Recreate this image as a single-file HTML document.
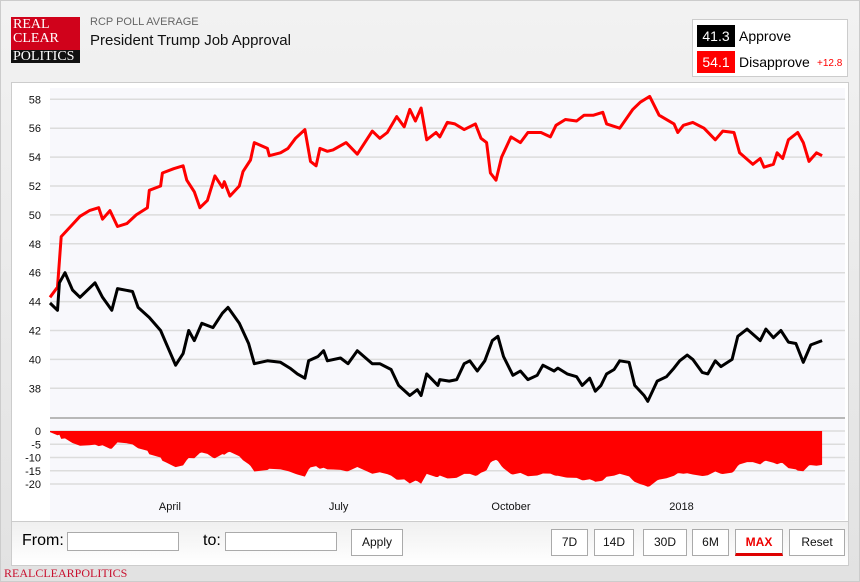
<!DOCTYPE html>
<html><head><meta charset="utf-8"><style>
*{box-sizing:border-box}
body{margin:0;width:860px;height:582px;overflow:hidden;font-family:"Liberation Sans",sans-serif;background:linear-gradient(#f2f2f2,#e2e2e2);position:relative}
.abs{position:absolute}
.btn{position:absolute;top:529px;height:27px;border:1px solid #aaa;background:#fff;font-size:12px;color:#111;text-align:center;line-height:25px}
.inp{position:absolute;top:532px;height:19px;border:1px solid #aaa;background:#fff}
</style></head><body>
<div class="abs" style="left:0;top:0;width:860px;height:582px;border:1px solid #ccc"></div>
<div class="abs" style="left:11px;top:17px;width:69px;height:46px;font-family:'Liberation Serif',serif;font-size:14px;line-height:14px;color:#fff">
 <div style="background:#d0021b;height:33px;padding:1px 2px">REAL<br>CLEAR</div>
 <div style="background:#111;height:13px;padding:0 2px;font-size:14px;line-height:13px">POLITICS</div>
</div>
<div class="abs" style="left:90px;top:16px;font-size:11px;color:#666">RCP POLL AVERAGE</div>
<div class="abs" style="left:90px;top:32px;font-size:15px;color:#111">President Trump Job Approval</div>
<div class="abs" style="left:692px;top:19px;width:156px;height:58px;background:#fff;border:1px solid #ccc">
 <div class="abs" style="left:4px;top:5px;width:38px;height:22px;background:#000;color:#fff;font-size:14px;text-align:center;line-height:22px">41.3</div>
 <div class="abs" style="left:46px;top:8px;font-size:14px">Approve</div>
 <div class="abs" style="left:4px;top:31px;width:38px;height:22px;background:#f00;color:#fff;font-size:14px;text-align:center;line-height:22px">54.1</div>
 <div class="abs" style="left:46px;top:34px;font-size:14px">Disapprove</div>
 <div class="abs" style="left:124px;top:38px;font-size:10px;color:#f00">+12.8</div>
</div>
<div class="abs" style="left:11px;top:82px;width:838px;height:440px;background:#fff;border:1px solid #ccc"></div>
<svg class="abs" style="left:0;top:0" width="860" height="582">
 <rect x="50" y="88" width="795" height="432" fill="#f8f8fc"/>
 <g id="grid"></g>
 <line x1="50" x2="845" y1="418" y2="418" stroke="#b8b8b8" stroke-width="2"/>
 <path id="spread" fill="#ff0000"/>
 <path id="dis" fill="none" stroke="#ff0000" stroke-width="3" stroke-linejoin="round"/>
 <path id="app" fill="none" stroke="#000" stroke-width="3" stroke-linejoin="round"/>
 <g id="labels" font-family="Liberation Sans, sans-serif" font-size="11" fill="#111"></g>
</svg>
<div class="abs" style="left:11px;top:521px;width:838px;height:45px;background:linear-gradient(#f0f0f0,#fff);border:1px solid #ccc"></div>
<div class="abs" style="left:22px;top:532px;font-size:16px">From:</div>
<div class="inp" style="left:67px;width:112px"></div>
<div class="abs" style="left:203px;top:532px;font-size:16px">to:</div>
<div class="inp" style="left:225px;width:112px"></div>
<div class="btn" style="left:351px;width:52px">Apply</div>
<div class="btn" style="left:551px;width:37px">7D</div>
<div class="btn" style="left:594px;width:40px">14D</div>
<div class="btn" style="left:643px;width:44px">30D</div>
<div class="btn" style="left:692px;width:37px">6M</div>
<div class="btn" style="left:735px;width:48px;color:#e00;font-weight:bold;border-bottom:3px solid #d00">MAX</div>
<div class="btn" style="left:789px;width:56px">Reset</div>
<div class="abs" style="left:4px;top:566px;font-family:'Liberation Serif',serif;font-size:12px;color:#c8102e">REALCLEARPOLITICS</div>
<script>
const disDays=[0,4,6,11,16,21,26,28,32,36,41,46,52,53,59,60,66,71,73,77,80,84,88,92,93,96,101,103,107,109,116,117,123,127,131,136,139,142,144,148,151,158,164,172,176,180,185,189,192,195,198,201,206,208,212,216,221,227,230,233,235,238,241,246,251,255,262,267,270,275,281,285,290,295,297,304,311,315,320,325,333,335,338,343,349,355,359,365,368,375,379,381,386,388,391,394,399,402,405,409,412];
const disVals=[44.3,45.0,48.5,49.2,49.9,50.3,50.5,49.7,50.3,49.2,49.4,50.0,50.5,51.7,52.0,52.9,53.2,53.4,52.4,51.6,50.5,51.0,52.7,51.9,52.3,51.3,52.0,53.0,53.8,55.0,54.6,54.1,54.3,54.6,55.3,55.9,53.7,53.4,54.6,54.4,54.5,55.0,54.2,55.8,55.3,55.7,56.8,56.1,57.3,56.5,57.4,55.2,55.7,55.4,56.4,56.3,55.9,56.3,55.3,55.0,52.9,52.4,54.0,55.4,55.0,55.7,55.7,55.4,56.2,56.6,56.5,56.9,56.9,57.1,56.3,56.0,57.3,57.8,58.2,56.9,56.3,55.7,56.2,56.4,56.0,55.2,55.8,55.7,54.3,53.5,53.9,53.3,53.5,54.3,53.9,55.2,55.7,55.0,53.7,54.3,54.1];
const appDays=[0,4,5,8,12,16,24,28,33,36,44,47,53,59,62,67,71,74,77,81,87,92,95,101,106,109,116,123,128,132,136,138,143,146,148,155,159,164,172,176,182,186,192,196,198,201,207,208,213,217,221,224,228,232,236,239,242,247,251,255,260,263,269,271,276,281,284,288,291,294,297,301,304,309,312,317,319,324,329,333,336,340,343,348,351,355,358,364,367,372,379,382,386,390,394,398,402,406,412];
const appVals=[43.9,43.4,45.3,46.0,44.8,44.3,45.3,44.3,43.4,44.9,44.7,43.6,42.9,42.0,41.1,39.6,40.4,42.0,41.3,42.5,42.2,43.2,43.6,42.5,41.1,39.7,39.9,39.8,39.4,39.0,38.7,39.9,40.2,40.6,39.9,40.1,39.7,40.6,39.7,39.7,39.3,38.2,37.5,37.9,37.5,39.0,38.2,38.6,38.5,38.6,39.7,39.9,39.2,39.9,41.3,41.6,40.2,38.9,39.2,38.6,38.9,39.6,39.2,39.4,39.0,38.8,38.2,38.7,37.8,38.2,39.0,39.3,39.9,39.8,38.2,37.5,37.1,38.5,38.8,39.4,39.9,40.3,40.0,39.1,39.0,39.9,39.5,40.0,41.6,42.1,41.3,42.1,41.5,42.0,41.2,41.1,39.8,41.0,41.3];
const mainTicks=[58,56,54,52,50,48,46,44,42,40,38];
const spreadTicks=[0,-5,-10,-15,-20];
const monthLabels=["April","July","October","2018"];
const monthDays=[64,154,246,337];

const X=d=>50+d*1.874;
const Y=v=>99.3+(58-v)*14.45;
const YS=v=>431-v*(-2.65)*-1;
const ys=v=>431-v*2.65;
const NS="http://www.w3.org/2000/svg";
const grid=document.getElementById('grid'),labels=document.getElementById('labels');
function mk(tag,attrs,parent){const e=document.createElementNS(NS,tag);for(const k in attrs)e.setAttribute(k,attrs[k]);parent.appendChild(e);return e;}
mainTicks.forEach(t=>{
 const l=mk('line',{x1:50,x2:845,y1:Y(t),y2:Y(t),stroke:'#dcdcdc','stroke-width':1.5},grid);
 
 
 const tx=mk('text',{x:41,y:Y(t)+4,'text-anchor':'end'},labels);tx.textContent=t;
 
 
});
spreadTicks.forEach(t=>{
 const l=mk('line',{x1:50,x2:845,y1:ys(t),y2:ys(t),stroke:'#dcdcdc','stroke-width':1.5},grid);
 
 
 const tx=mk('text',{x:41,y:ys(t)+4,'text-anchor':'end'},labels);tx.textContent=t;
 
 
});
monthLabels.forEach((m,i)=>{
 const tx=mk('text',{x:X(monthDays[i]),y:510,'text-anchor':'middle'},labels);tx.textContent=m;
 
 
});
const path=(ds,vs,f)=>ds.map((d,i)=>(i?'L':'M')+X(d).toFixed(1)+' '+f(vs[i]).toFixed(1)).join(' ');
const dis=document.getElementById('dis'),app=document.getElementById('app'),sp=document.getElementById('spread');
dis.setAttribute('d',path(disDays,disVals,Y));


app.setAttribute('d',path(appDays,appVals,Y));


function interp(ds,vs,d){for(let i=1;i<ds.length;i++){if(d<=ds[i]){const t=(d-ds[i-1])/(ds[i]-ds[i-1]);return vs[i-1]+t*(vs[i]-vs[i-1]);}}return vs[vs.length-1];}
const allDays=[...new Set(disDays.concat(appDays))].sort((a,b)=>a-b);
let d='M'+X(0)+' '+ys(0);
allDays.forEach(dd=>{const v=interp(appDays,appVals,dd)-interp(disDays,disVals,dd);d+=' L'+X(dd).toFixed(1)+' '+ys(v).toFixed(1);});
d+=' L'+X(allDays[allDays.length-1])+' '+ys(0)+' Z';
sp.setAttribute('d',d);


</script>
</body></html>
